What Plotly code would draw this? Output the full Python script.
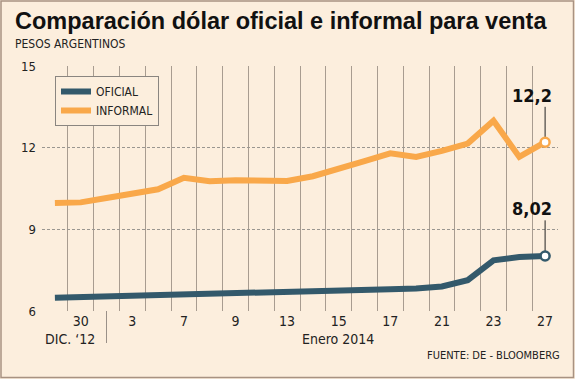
import plotly.graph_objects as go

# ---- data ----
day_index = list(range(20))
tick_positions = [1, 3, 5, 7, 9, 11, 13, 15, 17, 19]
tick_labels = ["30", "3", "7", "9", "13", "15", "17", "21", "23", "27"]
oficial = [6.49, 6.51, 6.53, 6.55, 6.57, 6.60, 6.61, 6.63, 6.65, 6.70,
           6.72, 6.74, 6.77, 6.80, 6.83, 6.90, 7.13, 7.86, 7.98, 8.02]
informal = [9.97, 9.99, 10.15, 10.30, 10.47, 10.89, 10.77, 10.80, 10.80, 10.78,
            10.95, 11.21, 11.51, 11.79, 11.66, 11.88, 12.15, 12.99, 11.66, 12.20]
y_ticks = [6, 9, 12, 15]

# ---- style ----
W, H = 575, 379
L, R, T, B = 42, 17, 66, 68
PW, PH = W - L - R, H - T - B
BG = "#FCEEDD"
C_OF = "#33596B"
C_IN = "#F9A84A"
SMALL = "DejaVu Sans Condensed"


def fx(px):
    return (px - L) / PW


def fy(py):
    return (H - B - py) / PH


fig = go.Figure()
fig.add_trace(go.Scatter(x=day_index, y=oficial, mode="lines", name="OFICIAL",
                         line=dict(color=C_OF, width=6), cliponaxis=False))
fig.add_trace(go.Scatter(x=day_index, y=informal, mode="lines", name="INFORMAL",
                         line=dict(color=C_IN, width=6), cliponaxis=False))
# end markers
fig.add_trace(go.Scatter(x=[day_index[-1]], y=[oficial[-1]], mode="markers", showlegend=False,
                         marker=dict(size=9, color="white", line=dict(color=C_OF, width=2.5)),
                         cliponaxis=False))
fig.add_trace(go.Scatter(x=[day_index[-1]], y=[informal[-1]], mode="markers", showlegend=False,
                         marker=dict(size=9, color="white", line=dict(color=C_IN, width=2.5)),
                         cliponaxis=False))

shapes = [
    # outer frame
    dict(type="rect", xref="paper", yref="paper", x0=fx(1), x1=fx(573.5), y0=fy(377.5), y1=fy(1),
         line=dict(color="#A89282", width=1.5), fillcolor="rgba(0,0,0,0)", layer="below"),
    # separator between Dec and Jan
    dict(type="line", xref="x", yref="paper", x0=2, x1=2, y0=0, y1=fy(343),
         line=dict(color="#9A9088", width=1)),
    # leader lines
    dict(type="line", xref="x", yref="y", x0=19, x1=19, y0=informal[-1], y1=13.5,
         line=dict(color="#222222", width=1), layer="between"),
    dict(type="line", xref="x", yref="y", x0=19, x1=19, y0=oficial[-1], y1=9.33,
         line=dict(color="#222222", width=1), layer="between"),
]

annotations = [
    dict(text="<b>Comparación dólar oficial e informal para venta</b>", xref="paper", yref="paper",
         x=fx(13), y=fy(21), xanchor="left", yanchor="middle", showarrow=False,
         font=dict(family="Liberation Sans", size=23.5, color="#111111")),
    dict(text="PESOS ARGENTINOS", xref="paper", yref="paper",
         x=fx(13), y=fy(43.5), xanchor="left", yanchor="middle", showarrow=False,
         font=dict(family=SMALL, size=12, color="#222222")),
    dict(text="DIC. ‘12", xref="paper", yref="paper", x=fx(70), y=fy(339),
         xanchor="center", yanchor="middle", showarrow=False,
         font=dict(family=SMALL, size=14, color="#222222")),
    dict(text="Enero 2014", xref="paper", yref="paper", x=fx(338), y=fy(339),
         xanchor="center", yanchor="middle", showarrow=False,
         font=dict(family=SMALL, size=14, color="#222222")),
    dict(text="FUENTE: DE - BLOOMBERG", xref="paper", yref="paper", x=fx(562), y=fy(355.5),
         xanchor="right", yanchor="middle", showarrow=False,
         font=dict(family=SMALL, size=11, color="#222222")),
    dict(text="<b>12,2</b>", xref="x", yref="y", x=19, y=13.93, xshift=-13.5,
         xanchor="center", yanchor="middle", showarrow=False,
         font=dict(family=SMALL, size=18, color="#111111")),
    dict(text="<b>8,02</b>", xref="x", yref="y", x=19, y=9.78, xshift=-13,
         xanchor="center", yanchor="middle", showarrow=False,
         font=dict(family=SMALL, size=18, color="#111111")),
]

fig.update_layout(
    width=W, height=H,
    margin=dict(l=L, r=R, t=T, b=B),
    paper_bgcolor=BG, plot_bgcolor=BG,
    shapes=shapes, annotations=annotations,
    showlegend=True,
    legend=dict(x=fx(55), y=fy(76), xanchor="left", yanchor="top",
                bgcolor=BG, bordercolor="#8A8580", borderwidth=1,
                font=dict(family=SMALL, size=12, color="#222222"),
                itemwidth=30, tracegroupgap=0),
    xaxis=dict(range=[-0.5, 19.5], tickmode="array", tickvals=tick_positions, ticktext=tick_labels,
               showgrid=False, zeroline=False, showline=False, ticks="",
               tickfont=dict(family=SMALL, size=14, color="#222222"),
               minor=dict(tick0=-0.5, dtick=1, showgrid=True, gridcolor="#A89C90", gridwidth=1)),
    yaxis=dict(range=[6, 15], tickmode="array", tickvals=y_ticks, ticktext=[str(v) for v in y_ticks],
               showgrid=True, gridcolor="#9A9690", gridwidth=1, griddash="3px,2px",
               zeroline=False, showline=False, ticks="", ticklabelstandoff=5,
               tickfont=dict(family=SMALL, size=13, color="#222222")),
)

fig.write_html("out.html", config={"displayModeBar": False},
               post_script="document.body.style.margin='0';")
